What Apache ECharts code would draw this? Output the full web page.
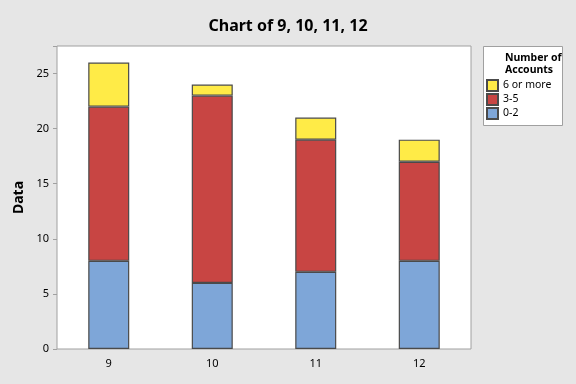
<!DOCTYPE html>
<html><head><meta charset="utf-8">
<script src="https://cdn.jsdelivr.net/npm/echarts@6/dist/echarts.min.js"></script>
<style>html,body{margin:0;padding:0;background:#e6e6e6}#c{width:576px;height:384px}</style>
</head><body><div id="c"></div>
<script>
const categories = ['9', '10', '11', '12'];
const low = [8, 6, 7, 8];
const mid = [14, 17, 12, 9];
const high = [4, 1, 2, 2];
const seriesNames = ['0-2', '3-5', '6 or more'];
const yTicks = [0, 5, 10, 15, 20, 25];

const chart = echarts.init(document.getElementById('c'));
const font = 'Noto Sans';
const itemStyle = c => ({color: c, borderColor: '#4a4a4a', borderWidth: 1.2});
chart.setOption({
  backgroundColor: '#e6e6e6',
  animation: false,
  title: {text: 'Chart of 9, 10, 11, 12', left: 'center', top: 13,
    textStyle: {fontFamily: font, fontSize: 16, fontWeight: 'bold', color: '#000'}},
  grid: {left: 57, top: 46, right: 105, bottom: 35, show: true, backgroundColor: '#fff', borderColor: '#a0a0a0', borderWidth: 1},
  xAxis: {type: 'category', data: categories,
    axisLine: {show: false}, axisTick: {alignWithLabel: true, lineStyle: {color: '#a0a0a0'}, length: 4},
    axisLabel: {fontFamily: font, fontSize: 11, color: '#000', margin: 9}},
  yAxis: {type: 'value', min: 0, max: 27.5, interval: 5, name: 'Data', nameLocation: 'middle', nameGap: 29,
    nameTextStyle: {fontFamily: font, fontSize: 14, fontWeight: 'bold', color: '#000'},
    axisLine: {show: false}, axisTick: {show: true, length: 4, lineStyle: {color: '#a0a0a0'}},
    splitLine: {show: false},
    axisLabel: {fontFamily: font, fontSize: 11, color: '#000', margin: 8,
      formatter: v => yTicks.includes(v) ? String(v) : ''}},
  legend: {orient: 'vertical', left: 486, top: 79, itemWidth: 11, itemHeight: 11, itemGap: 1, padding: 0,
    data: [seriesNames[2], seriesNames[1], seriesNames[0]],
    textStyle: {fontFamily: font, fontSize: 10.5, color: '#000', lineHeight: 12}, icon: 'rect'},
  graphic: [
    {type: 'rect', left: 483, top: 46, shape: {width: 79, height: 79}, style: {fill: '#fff', stroke: '#a0a0a0', lineWidth: 1}, z: -1},
    {type: 'text', left: 505, top: 52, style: {text: 'Number of\nAccounts', font: 'bold 10.5px "Noto Sans"', fill: '#000', lineHeight: 12}}
  ],
  series: [
    {name: seriesNames[0], type: 'bar', stack: 's', data: low, barWidth: 41, itemStyle: itemStyle('#7ea6d8')},
    {name: seriesNames[1], type: 'bar', stack: 's', data: mid, barWidth: 41, itemStyle: itemStyle('#c84543')},
    {name: seriesNames[2], type: 'bar', stack: 's', data: high, barWidth: 41, itemStyle: itemStyle('#ffeb47')}
  ]
});
</script></body></html>
